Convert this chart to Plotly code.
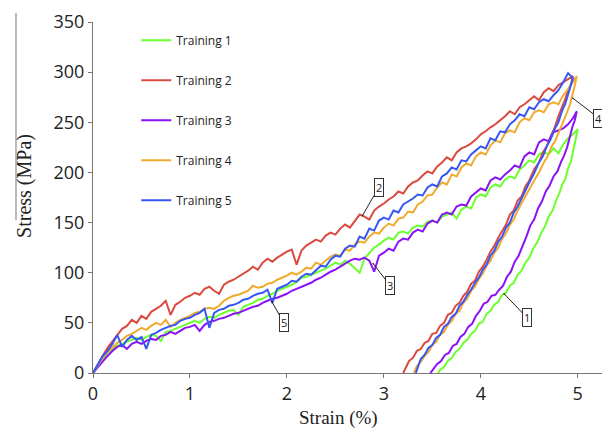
import plotly.graph_objects as go

# shared strain grid (%) for the loading branches
STRAIN_LOAD = [
    0.00, 0.05, 0.10, 0.15, 0.20, 0.25, 0.30, 0.35, 0.40, 0.45,
    0.50, 0.55, 0.60, 0.65, 0.70, 0.75, 0.80, 0.85, 0.90, 0.95,
    1.00, 1.05, 1.10, 1.15, 1.20, 1.25, 1.30, 1.35, 1.40, 1.45,
    1.50, 1.55, 1.60, 1.65, 1.70, 1.75, 1.80, 1.85, 1.90, 1.95,
    2.00, 2.05, 2.10, 2.15, 2.20, 2.25, 2.30, 2.35, 2.40, 2.45,
    2.50, 2.55, 2.60, 2.65, 2.70, 2.75, 2.80, 2.85, 2.90, 2.95,
    3.00, 3.05, 3.10, 3.15, 3.20, 3.25, 3.30, 3.35, 3.40, 3.45,
    3.50, 3.55, 3.60, 3.65, 3.70, 3.75, 3.80, 3.85, 3.90, 3.95,
    4.00, 4.05, 4.10, 4.15, 4.20, 4.25, 4.30, 4.35, 4.40, 4.45,
    4.50, 4.55, 4.60, 4.65, 4.70, 4.75, 4.80, 4.85, 4.90, 4.95,
]

# loading stress (MPa)
T1_LOAD = [
    0, 7, 14, 20, 24, 27, 29, 31, 33, 35,
    33, 36, 38, 37, 32, 41, 42, 44, 46, 48,
    50, 52, 50, 54, 56, 55, 58, 60, 62, 63,
    58, 66, 68, 70, 73, 74, 77, 79, 82, 84,
    86, 88, 91, 95, 96, 98, 100, 102, 104, 107,
    110, 108, 112, 109, 104, 100, 114, 120, 125, 128,
    132, 135, 133, 140, 141, 139, 145, 147, 146, 151,
    152, 150, 156, 158, 160, 154, 163, 166, 164, 175,
    178, 176, 185, 188, 186, 193, 196, 194, 203, 207,
    212, 210, 218, 220, 218, 224, 219, 228, 234, 238,
]
T2_LOAD = [
    0, 9, 17, 25, 31, 37, 44, 47, 53, 50,
    57, 54, 61, 64, 67, 72, 58, 68, 71, 75,
    77, 80, 78, 84, 86, 82, 79, 88, 91, 93,
    96, 99, 102, 106, 103, 110, 114, 111, 115, 118,
    121, 123, 108, 122, 127, 130, 133, 131, 137, 140,
    138, 144, 148, 145, 152, 158, 156, 153, 162, 166,
    169, 173, 176, 181, 179, 186, 190, 192, 197, 201,
    199, 206, 210, 215, 212, 220, 224, 226, 229, 233,
    238, 241, 245, 248, 252, 256, 261, 258, 265, 268,
    272, 276, 272, 280, 284, 281, 287, 290, 293, 296,
]
T3_LOAD = [
    0, 6, 12, 17, 22, 26, 28, 24, 29, 31,
    29, 32, 34, 33, 37, 38, 41, 39, 42, 45,
    46, 48, 42, 48, 51, 52, 54, 55, 57, 59,
    60, 62, 64, 66, 67, 70, 72, 74, 75, 77,
    79, 82, 84, 86, 88, 90, 93, 95, 98, 101,
    103, 106, 109, 112, 114, 113, 115, 112, 101, 117,
    120, 124, 122, 131, 134, 133, 140, 143, 141, 149,
    152, 150, 158, 160, 158, 166, 168, 167, 176, 180,
    184, 182, 192, 195, 193, 198, 202, 207, 205, 216,
    220, 218, 230, 233, 231, 240, 242, 244, 248, 254,
]
T4_LOAD = [
    0, 8, 15, 21, 26, 30, 33, 37, 39, 42,
    45, 43, 47, 50, 48, 53, 46, 50, 53, 55,
    57, 60, 61, 64, 65, 64, 67, 72, 75, 77,
    78, 80, 82, 87, 85, 86, 89, 90, 93, 95,
    97, 100, 98, 101, 105, 104, 110, 108, 112, 116,
    118, 117, 123, 122, 128, 131, 130, 136, 140, 139,
    145, 149, 147, 154, 155, 161, 160, 168, 171, 177,
    178, 185, 190, 188, 198, 196, 205, 209, 207, 216,
    220, 218, 227, 232, 230, 239, 242, 240, 250, 254,
    252, 260, 262, 260, 268, 270, 268, 277, 283, 290,
]
T5_LOAD = [
    0, 9, 17, 22, 29, 38, 26, 33, 37, 33,
    36, 24, 38, 40, 43, 45, 47, 48, 52, 54,
    55, 58, 60, 64, 45, 60, 63, 64, 67, 68,
    70, 73, 74, 77, 79, 80, 83, 70, 84, 86,
    88, 92, 91, 96, 99, 98, 103, 107, 106, 113,
    117, 116, 124, 127, 126, 136, 134, 144, 142, 152,
    155, 153, 162, 160, 168, 171, 174, 178, 177, 185,
    188, 186, 196, 199, 205, 203, 212, 211, 218, 222,
    226, 224, 234, 232, 241, 240, 248, 252, 258, 256,
    265, 263, 270, 273, 271, 277, 282, 290, 299, 294,
]

# unloading branches (strain %, stress MPa)
T1_UNLOAD_STRAIN = [
    5.00, 4.98, 4.96, 4.93, 4.90, 4.87, 4.84, 4.81, 4.78, 4.74,
    4.70, 4.66, 4.62, 4.58, 4.54, 4.50, 4.46, 4.42, 4.38, 4.34,
    4.30, 4.26, 4.22, 4.18, 4.14, 4.10, 4.06, 4.02, 3.98, 3.94,
    3.90, 3.86, 3.82, 3.78, 3.74, 3.70, 3.66, 3.62, 3.58, 3.56,
]
T1_UNLOAD = [
    243, 234, 226, 211, 204, 193, 188, 179, 173, 162,
    156, 146, 139, 130, 124, 115, 110, 102, 98, 90,
    87, 80, 78, 71, 68, 62, 59, 51, 49, 42,
    39, 33, 30, 24, 21, 15, 12, 6, 3, 0,
]
T2_UNLOAD_STRAIN = [
    4.95, 4.93, 4.90, 4.87, 4.84, 4.80, 4.76, 4.72, 4.68, 4.64,
    4.60, 4.55, 4.50, 4.46, 4.42, 4.38, 4.34, 4.30, 4.26, 4.22,
    4.18, 4.14, 4.10, 4.06, 4.02, 3.98, 3.94, 3.90, 3.86, 3.82,
    3.78, 3.74, 3.70, 3.66, 3.62, 3.58, 3.54, 3.50, 3.46, 3.42,
    3.38, 3.34, 3.30, 3.26, 3.22, 3.20,
]
T2_UNLOAD = [
    296, 288, 282, 273, 266, 256, 244, 236, 226, 220,
    210, 203, 192, 186, 176, 172, 162, 158, 148, 142,
    135, 127, 121, 113, 106, 101, 92, 89, 81, 77,
    70, 67, 60, 58, 50, 47, 40, 39, 32, 30,
    24, 22, 15, 12, 5, 0,
]
T3_UNLOAD_STRAIN = [
    4.99, 4.97, 4.95, 4.92, 4.89, 4.86, 4.83, 4.79, 4.75, 4.71,
    4.67, 4.63, 4.59, 4.55, 4.51, 4.47, 4.43, 4.39, 4.35, 4.31,
    4.27, 4.23, 4.19, 4.15, 4.11, 4.07, 4.03, 3.99, 3.95, 3.91,
    3.87, 3.83, 3.79, 3.75, 3.71, 3.67, 3.63, 3.59, 3.55, 3.51,
    3.48,
]
T3_UNLOAD = [
    261, 252, 247, 235, 225, 217, 211, 201, 196, 187,
    181, 171, 164, 153, 147, 136, 127, 117, 111, 101,
    96, 87, 83, 78, 77, 71, 69, 62, 57, 49,
    46, 39, 36, 29, 27, 20, 18, 12, 9, 4,
    0,
]
T4_UNLOAD_STRAIN = [
    4.99, 4.97, 4.95, 4.92, 4.89, 4.85, 4.81, 4.77, 4.73, 4.69,
    4.65, 4.60, 4.55, 4.50, 4.46, 4.42, 4.38, 4.34, 4.30, 4.26,
    4.22, 4.18, 4.14, 4.10, 4.06, 4.02, 3.98, 3.94, 3.90, 3.86,
    3.82, 3.78, 3.74, 3.70, 3.66, 3.62, 3.58, 3.54, 3.50, 3.46,
    3.42, 3.38, 3.34, 3.31,
]
T4_UNLOAD = [
    296, 287, 278, 268, 260, 250, 241, 232, 226, 216,
    210, 200, 192, 183, 176, 168, 162, 153, 148, 139,
    134, 125, 120, 112, 107, 99, 94, 86, 82, 74,
    70, 62, 59, 52, 48, 41, 38, 31, 28, 21,
    17, 11, 7, 0,
]
T5_UNLOAD_STRAIN = [
    4.95, 4.93, 4.90, 4.87, 4.84, 4.80, 4.76, 4.72, 4.68, 4.64,
    4.60, 4.55, 4.50, 4.46, 4.42, 4.38, 4.34, 4.30, 4.26, 4.22,
    4.18, 4.14, 4.10, 4.06, 4.02, 3.98, 3.94, 3.90, 3.86, 3.82,
    3.78, 3.74, 3.70, 3.66, 3.62, 3.58, 3.54, 3.50, 3.46, 3.42,
    3.38, 3.35, 3.33,
]
T5_UNLOAD = [
    294, 287, 277, 268, 262, 250, 243, 233, 226, 216,
    210, 199, 190, 182, 175, 166, 160, 150, 145, 136,
    131, 122, 117, 108, 103, 95, 90, 83, 78, 71,
    67, 59, 56, 49, 46, 38, 35, 28, 25, 18,
    14, 6, 0,
]

NAMES = ["Training 1", "Training 2", "Training 3", "Training 4", "Training 5"]
COLORS = ["#6bff2e", "#db4a3f", "#8a12f5", "#f0ab2e", "#3657f5"]

# callout labels: (strain, stress, text, dx px, dy px)
CALLOUTS = [
    (2.78, 157, "2", 16, -28),
    (4.95, 274, "4", 26, 20),
    (2.89, 109, "3", 17, 22),
    (4.24, 79, "1", 23, 24),
    (1.845, 71, "5", 12, 21),
]

loads = [T1_LOAD, T2_LOAD, T3_LOAD, T4_LOAD, T5_LOAD]
unload_x = [T1_UNLOAD_STRAIN, T2_UNLOAD_STRAIN, T3_UNLOAD_STRAIN, T4_UNLOAD_STRAIN, T5_UNLOAD_STRAIN]
unload_y = [T1_UNLOAD, T2_UNLOAD, T3_UNLOAD, T4_UNLOAD, T5_UNLOAD]

fig = go.Figure()
for name, color, ly, ux, uy in zip(NAMES, COLORS, loads, unload_x, unload_y):
    fig.add_trace(
        go.Scatter(
            x=STRAIN_LOAD + ux,
            y=ly + uy,
            mode="lines",
            name=name,
            legendgroup=name,
            line=dict(color=color, width=2),
        )
    )

for x, y, text, dx, dy in CALLOUTS:
    fig.add_annotation(
        x=x, y=y, text=text, showarrow=True, ax=dx, ay=dy,
        arrowhead=6, arrowsize=0.4, arrowwidth=1, arrowcolor="#222",
        bordercolor="#333", borderwidth=1, borderpad=1, bgcolor="white",
        font=dict(family="Open Sans", size=11, color="#222"),
    )

serif = "Liberation Serif"
fig.add_annotation(
    x=-0.1336, y=0.533, xref="paper", yref="paper", text="Stress (MPa)",
    xanchor="center", yanchor="middle",
    textangle=-90, showarrow=False, font=dict(family=serif, size=20, color="#222"),
)
fig.add_annotation(
    x=0.483, y=-0.128, xref="paper", yref="paper", text="Strain (%)",
    xanchor="center", yanchor="middle",
    showarrow=False, font=dict(family=serif, size=19, color="#222"),
)
# stray rule next to the y title
fig.add_shape(type="line", xref="paper", yref="paper", x0=-0.1513, x1=-0.1513,
              y0=0.436, y1=1.026, line=dict(color="#777", width=1))

axis_style = dict(
    showline=True, linecolor="#777", linewidth=1, ticks="outside", ticklen=4,
    tickcolor="#777", showgrid=False, zeroline=False, automargin=False,
    tickfont=dict(family="Open Sans", size=18, color="#222"),
)
fig.update_xaxes(range=[0, 5.25], tickvals=[0, 1, 2, 3, 4, 5], **axis_style)
fig.update_yaxes(range=[0, 350], dtick=50, **axis_style)

# page body adds an 8px offset, so the figure is 8px smaller than the window
fig.update_layout(
    width=602, height=423,
    margin=dict(l=85, r=8, t=14, b=58),
    paper_bgcolor="white", plot_bgcolor="white",
    legend=dict(x=0.085, y=0.989, xanchor="left", yanchor="top",
                font=dict(family="Open Sans", size=12, color="#222"),
                tracegroupgap=21, bgcolor="rgba(0,0,0,0)"),
)

fig.write_html("out.html")
